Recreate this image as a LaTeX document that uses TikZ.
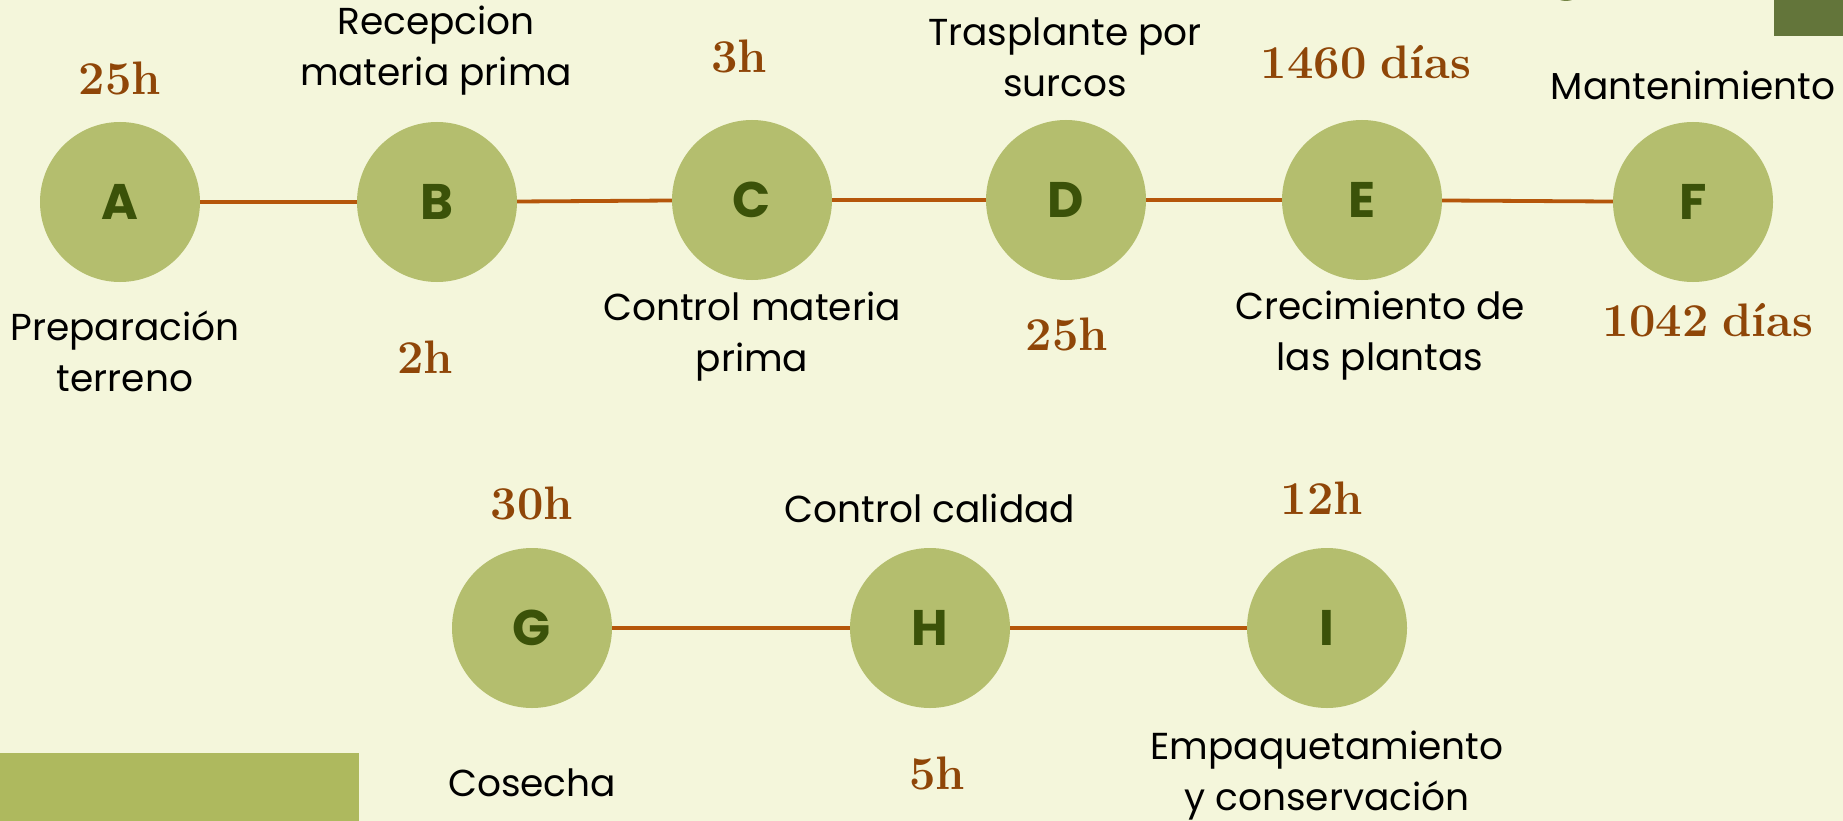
\documentclass[tikz,border=0pt]{standalone}
\usepackage{fontspec}
\usepackage{tikz}
\newfontfamily\labelfont{Poppins}

\definecolor{bgcream}{HTML}{F4F6DB}
\definecolor{stepfill}{HTML}{B4BE6E}
\definecolor{letterdark}{HTML}{3B5209}
\definecolor{linkorange}{HTML}{B5560A}
\definecolor{timebrown}{HTML}{8F4608}
\definecolor{barlight}{HTML}{AEB95E}
\definecolor{bardark}{HTML}{63753A}

\tikzset{
    stage/.style={shape=circle, fill=stepfill, minimum size=160pt, inner sep=0pt,
        text=letterdark, font=\labelfont\bfseries\fontsize{50}{50}\selectfont},
    task/.style={align=center, text=black, font=\labelfont\fontsize{37.5}{51}\selectfont},
    dur/.style={text=timebrown, font=\bfseries\fontsize{47}{47}\selectfont},
    link/.style={draw=linkorange, line width=3.8pt}
}

\begin{document}
\begin{tikzpicture}[x=1pt, y=-1pt]
            \fill[bgcream] (0,0) rectangle (1843,821);
            \useasboundingbox (0,0) rectangle (1843,821);
            \fill[barlight] (0,753) rectangle (359,821);
            \fill[bardark] (1774,0) rectangle (1843,36);
            \begin{scope}
                \clip (0,0) rectangle (1843,821);
                \fill[bardark!80!stepfill] (1566,-18) circle (19);
            \end{scope}
            % first row
            \node[stage] (A) at (120,202) {A};
            \node[stage] (B) at (437,202) {B};
            \node[stage] (C) at (752,200) {C};
            \node[stage] (D) at (1066,200) {D};
            \node[stage] (E) at (1362,200) {E};
            \node[stage] (F) at (1693,202) {F};
            % second row
            \node[stage] (G) at (532,628) {G};
            \node[stage] (H) at (930,628) {H};
            \node[stage] (I) at (1327,628) {I};
            \draw[link] (A) -- (B);
            \draw[link] (B) -- (C);
            \draw[link] (C) -- (D);
            \draw[link] (D) -- (E);
            \draw[link] (E) -- (F);
            \draw[link] (G) -- (H);
            \draw[link] (H) -- (I);
            \node[task] (tA) at (125,351) {Preparación\\terreno};
            \node[task] (tB) at (436,51) {Recepcion\\materia prima};
            \node[task] (tC) at (752,337) {Control materia\\prima};
            \node[task] (tD) at (1065,57) {Trasplante por\\surcos};
            \node[task] (tE) at (1380,336) {Crecimiento de\\las plantas};
            \node[task] (tF) at (1693,85) {Mantenimiento};
            \node[task] (tG) at (532,783) {Cosecha};
            \node[task] (tH) at (930,508) {Control calidad};
            \node[task] (tI) at (1327,776) {Empaquetamiento\\y conservación};
            \node[dur] (dA) at (120,78) {25h};
            \node[dur] (dB) at (425,357) {2h};
            \node[dur] (dC) at (739,56) {3h};
            \node[dur] (dD) at (1067,334) {25h};
            \node[dur] (dE) at (1366,62) {1460\hspace{-4pt} días};
            \node[dur] (dF) at (1708,320) {1042\hspace{-4pt} días};
            \node[dur] (dG) at (532,503) {30h};
            \node[dur] (dH) at (937,773) {5h};
            \node[dur] (dI) at (1322,498) {12h};
        \end{tikzpicture}
\end{document}
